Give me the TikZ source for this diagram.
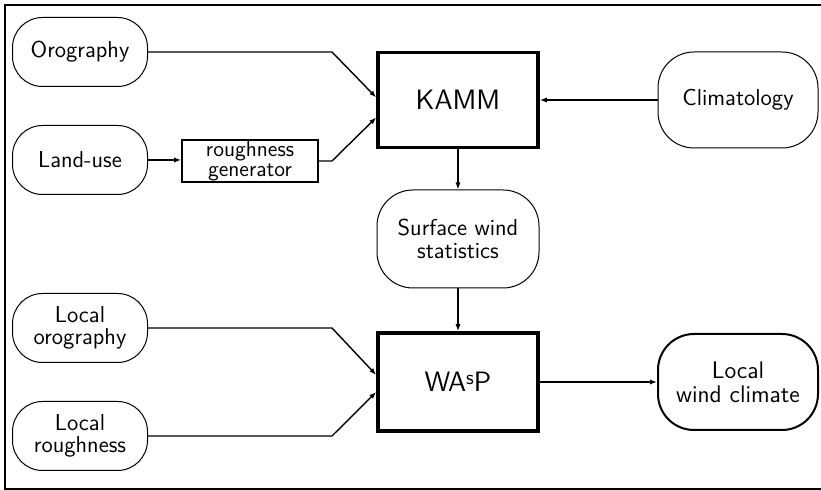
\documentclass[tikz,border=0pt]{standalone}
\usepackage{tikz}
\usetikzlibrary{arrows.meta}
\tikzset{
  term/.style={draw, line width=0.5pt, rounded corners=15pt, minimum width=67.5pt, minimum height=34.5pt, align=center, font=\sffamily\fontsize{11.5}{11.3}\selectfont, inner sep=0pt},
  bigterm/.style={term, rounded corners=18pt, minimum width=80pt, minimum height=48pt},
  model/.style={draw, line width=1.8pt, minimum width=80pt, minimum height=47.5pt, font=\sffamily\fontsize{14}{16}\selectfont},
  genbox/.style={draw, line width=0.8pt, minimum width=68pt, minimum height=21pt, inner sep=0pt, align=center, font=\sffamily\fontsize{11}{9.8}\selectfont},
  arr/.style={-{Latex[length=3.5pt,width=2.6pt]}, line width=0.7pt}
}
\begin{document}
\begin{tikzpicture}[x=0.5pt,y=-0.5pt]
\useasboundingbox (0,0) rectangle (821,490);
\draw[line width=1pt] (5,5) rectangle (830,489);
% inputs of KAMM
\node[term] (oro) at (80,52) {Orography};
\node[term] (land) at (80,160) {Land-use};
\node[genbox] (rg) at (250,161) {roughness\\generator};
\node[model] (kamm) at (458,100) {KAMM};
\node[bigterm] (clim) at (738,100) {Climatology};
\node[bigterm, minimum width=81pt, minimum height=49pt] (sws) at (458,239) {Surface wind\\statistics};
% inputs of WAsP
\node[term] (lor) at (80,328) {Local\\orography};
\node[term] (lro) at (80,436) {Local\\roughness};
\node[model, minimum height=49pt] (wasp) at (458,382) {WA\raisebox{3.8pt}{\fontsize{10}{10}\selectfont s}P};
\node[bigterm, line width=1pt, font=\sffamily\fontsize{12}{12}\selectfont] (lwc) at (738,382) {Local\\wind climate};
\coordinate (bendx) at (332,0);
\draw[arr] (oro.east) -- (oro.east -| bendx) -- ([yshift=1.25pt]kamm.west);
\draw[arr] (land.east) -- (land.east -| rg.west);
\draw[arr] (rg.east) -- (rg.east -| bendx) -- ([yshift=-8.75pt]kamm.west);
\draw[arr] (clim.west) -- (kamm.east);
\draw[arr] (kamm.south) -- (sws.north);
\draw[arr] (sws.south) -- (wasp.north);
\draw[arr] (lor.east) -- (lor.east -| bendx) -- ([yshift=3.5pt]wasp.west);
\draw[arr] (lro.east) -- (lro.east -| bendx) -- ([yshift=-5pt]wasp.west);
\draw[arr] (wasp.east) -- (lwc.west);
\end{tikzpicture}
\end{document}
